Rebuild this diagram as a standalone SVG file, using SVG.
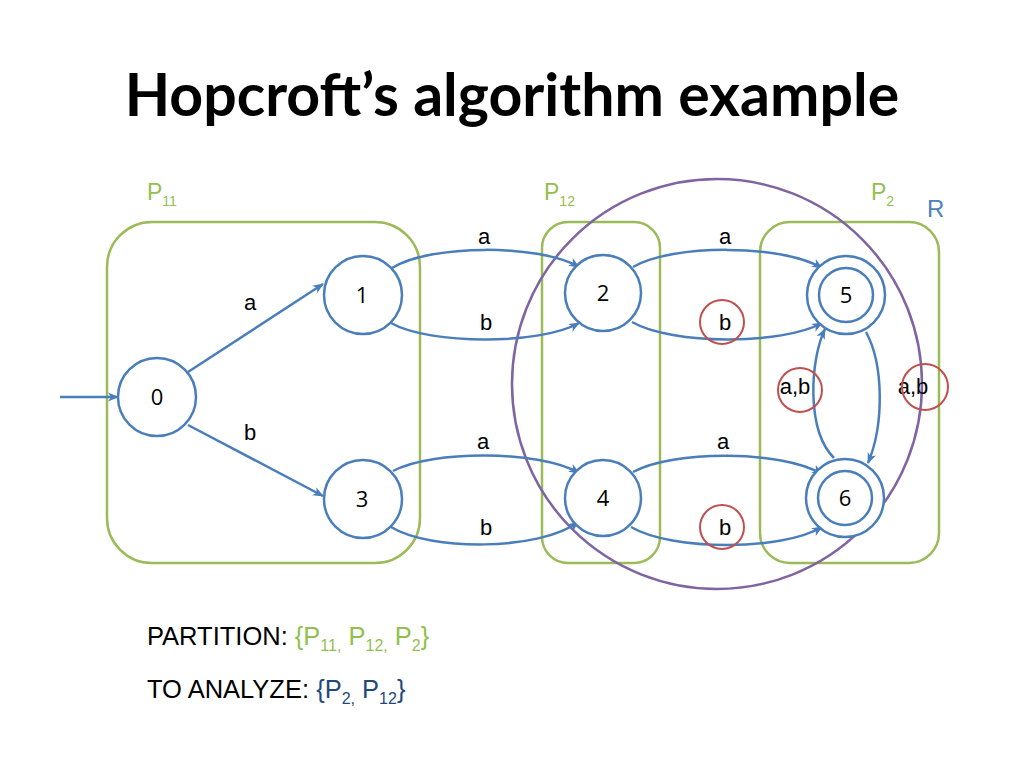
<svg xmlns="http://www.w3.org/2000/svg" width="1024" height="768" viewBox="0 0 1024 768">
<style>
.title{font-family:Lato,"Open Sans","Liberation Sans",sans-serif;font-weight:bold;font-size:59px;fill:#000}
.part{fill:none;stroke:#9bbb59;stroke-width:2.5}
.state{fill:#fff;stroke:#4a7ebb;stroke-width:2.5}
.num{font-family:"Open Sans","Liberation Sans",sans-serif;font-size:22px;fill:#000;text-anchor:middle}
.lbl{font-family:"Liberation Sans",Arial,sans-serif;font-size:22px;fill:#000;text-anchor:middle}
.edge{fill:none;stroke:#4a7ebb;stroke-width:2.5;marker-end:url(#arr)}
.mark{fill:none;stroke:#c0504d;stroke-width:2}
.pl{font-family:"Liberation Sans",Arial,sans-serif;font-size:23px;fill:#92c050}
.sub{font-size:14px}
.txt{font-family:"Liberation Sans",Arial,sans-serif;font-size:25.5px;fill:#000}
.sub2{font-size:16px}
</style>
<defs>
<marker id="arr" markerUnits="userSpaceOnUse" markerWidth="12" markerHeight="12" viewBox="0 0 12 12" refX="10" refY="6" orient="auto">
<path d="M0,1.5 L11,6 L0,10.5 L3,6 Z" fill="#4a7ebb"/>
</marker>
</defs>
<rect width="1024" height="768" fill="#fff"/>
<text class="title" x="512" y="116" text-anchor="middle">Hopcroft’s algorithm example</text>

<g id="partitions">
<g id="P11"><rect class="part" x="107" y="222" width="313" height="341" rx="45"/>
<text class="pl" x="147" y="200">P<tspan class="sub" dy="6">11</tspan></text></g>
<g id="P12"><rect class="part" x="542" y="222" width="118" height="341" rx="26"/>
<text class="pl" x="544" y="200">P<tspan class="sub" dy="6">12</tspan></text></g>
<g id="P2"><rect class="part" x="760" y="222" width="179" height="341" rx="30"/>
<text class="pl" x="871" y="200">P<tspan class="sub" dy="6">2</tspan></text></g>
</g>

<g id="R">
<circle cx="717" cy="384" r="205" fill="none" stroke="#8064a2" stroke-width="2.5"/>
<text x="927" y="217" font-family="Liberation Sans,Arial,sans-serif" font-size="24" fill="#4f81bd">R</text>
</g>

<g id="connectors">
<path class="edge" d="M60,397 L118,397"/>
<path class="edge" d="M188,372 L323,284"/>
<path class="edge" d="M188,425 L323,496"/>
<path class="edge" d="M392,268 C430,244 540,244 579,267"/>
<path class="edge" d="M391,323 C430,345 540,345 579,323"/>
<path class="edge" d="M633,267 C672,244 782,244 822,268"/>
<path class="edge" d="M632,322 C672,345 782,345 822,323"/>
<path class="edge" d="M393,471 C432,450 540,450 579,473"/>
<path class="edge" d="M391,527 C430,551 540,551 578,522"/>
<path class="edge" d="M633,472 C672,450 782,450 822,474"/>
<path class="edge" d="M631,527 C672,551 782,551 822,527"/>
<path class="edge" d="M834,458 C806,430 810,360 825,329"/>
<path class="edge" d="M866,332 C884,365 884,425 868,463"/>
</g>

<g id="edge-labels">
<text class="lbl" x="250" y="310">a</text>
<text class="lbl" x="250" y="440">b</text>
<text class="lbl" x="484" y="244">a</text>
<text class="lbl" x="486" y="330">b</text>
<text class="lbl" x="725" y="244">a</text>
<text class="lbl" x="725" y="330">b</text>
<text class="lbl" x="483" y="449">a</text>
<text class="lbl" x="486" y="535">b</text>
<text class="lbl" x="723" y="449">a</text>
<text class="lbl" x="725" y="535">b</text>
<text class="lbl" x="795" y="394">a,b</text>
<text class="lbl" x="913" y="394">a,b</text>
<circle class="mark" cx="722" cy="322" r="22"/>
<circle class="mark" cx="722" cy="527" r="22"/>
<circle class="mark" cx="800" cy="390" r="22"/>
<circle class="mark" cx="925" cy="387" r="23"/>
</g>

<g id="n0"><circle class="state" cx="157" cy="397" r="39"/><text class="num" x="157" y="405">0</text></g>
<g id="n1"><circle class="state" cx="363" cy="295" r="39"/><text class="num" x="362" y="303">1</text></g>
<g id="n3"><circle class="state" cx="363" cy="499" r="39"/><text class="num" x="362" y="507">3</text></g>
<g id="n2"><circle class="state" cx="603" cy="293" r="38"/><text class="num" x="603" y="301">2</text></g>
<g id="n4"><circle class="state" cx="603" cy="498" r="38"/><text class="num" x="603" y="506">4</text></g>
<g id="n5"><circle class="state" cx="846" cy="295" r="39"/><circle class="state" cx="846" cy="295" r="27"/><text class="num" x="846" y="303">5</text></g>
<g id="n6"><circle class="state" cx="845" cy="498" r="39"/><circle class="state" cx="845" cy="498" r="27"/><text class="num" x="845" y="506">6</text></g>

<g id="legend">
<text class="txt" x="147" y="645">PARTITION: <tspan fill="#92c050">{P<tspan class="sub2" dy="6">11,</tspan><tspan dy="-6"> P</tspan><tspan class="sub2" dy="6">12,</tspan><tspan dy="-6"> P</tspan><tspan class="sub2" dy="6">2</tspan><tspan dy="-6">}</tspan></tspan></text>
<text class="txt" x="147" y="698">TO ANALYZE: <tspan fill="#1f497d">{P<tspan class="sub2" dy="6">2,</tspan><tspan dy="-6"> P</tspan><tspan class="sub2" dy="6">12</tspan><tspan dy="-6">}</tspan></tspan></text>
</g>
</svg>
